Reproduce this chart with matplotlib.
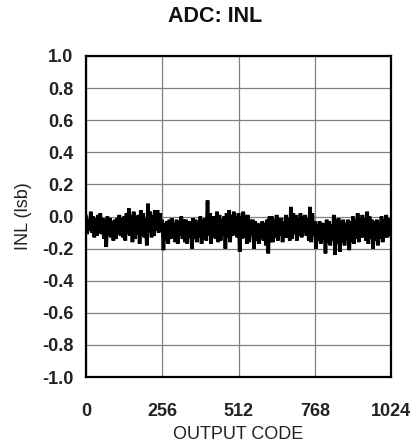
import numpy as np
import matplotlib
matplotlib.use("Agg")
import matplotlib.pyplot as plt

plt.rcParams["font.family"] = ["Liberation Sans", "DejaVu Sans"]

# INL samples, one every 4 output codes
code_step = 4
inl_lsb = [
    0.00, -0.11, -0.02, -0.09, 0.03, -0.10, 0.00, -0.13, -0.01, -0.12, 0.01, -0.10, 0.02, -0.11, -0.01, -0.14,
    -0.02, -0.19, 0.00, -0.12, -0.01, -0.13, -0.03, -0.15, -0.02, -0.14, -0.01, -0.11, 0.01, -0.12, -0.01, -0.13,
    0.00, -0.15, 0.02, -0.11, 0.05, -0.12, 0.01, -0.16, 0.03, -0.14, 0.00, -0.11, 0.01, -0.17, 0.04, -0.12,
    0.02, -0.13, -0.01, -0.18, 0.08, -0.10, 0.03, -0.13, 0.01, -0.12, 0.04, -0.09, 0.04, -0.10, 0.02, -0.08,
    -0.02, -0.21, -0.04, -0.15, -0.03, -0.17, -0.02, -0.14, -0.01, -0.13, -0.04, -0.16, -0.02, -0.17, -0.03, -0.12,
    0.00, -0.14, -0.02, -0.16, -0.02, -0.17, -0.03, -0.13, -0.03, -0.20, -0.01, -0.14, -0.02, -0.16, -0.04, -0.13,
    0.00, -0.17, -0.02, -0.14, -0.01, -0.15, 0.10, -0.12, 0.02, -0.17, 0.00, -0.13, 0.00, -0.14, 0.03, -0.16,
    0.01, -0.15, -0.02, -0.12, 0.00, -0.20, 0.02, -0.13, 0.04, -0.16, 0.01, -0.12, 0.03, -0.11, 0.00, -0.13,
    0.02, -0.22, 0.00, -0.14, 0.03, -0.13, 0.01, -0.17, 0.01, -0.16, -0.02, -0.12, -0.02, -0.20, -0.03, -0.15,
    -0.04, -0.17, -0.05, -0.14, -0.03, -0.15, -0.04, -0.18, -0.02, -0.23, 0.00, -0.16, 0.00, -0.16, -0.02, -0.13,
    0.01, -0.15, -0.01, -0.12, -0.01, -0.16, -0.03, -0.13, 0.01, -0.13, -0.01, -0.15, 0.06, -0.14, 0.02, -0.11,
    0.01, -0.15, -0.01, -0.12, 0.02, -0.13, 0.00, -0.10, 0.01, -0.12, -0.01, -0.15, 0.06, -0.16, 0.02, -0.12,
    -0.03, -0.20, -0.05, -0.15, -0.03, -0.17, -0.04, -0.14, -0.04, -0.23, -0.02, -0.16, -0.03, -0.18, -0.05, -0.15,
    0.01, -0.24, -0.02, -0.17, -0.01, -0.22, -0.03, -0.16, -0.02, -0.18, -0.04, -0.15, -0.02, -0.21, -0.03, -0.16,
    0.00, -0.17, -0.02, -0.14, 0.02, -0.16, -0.01, -0.13, 0.01, -0.13, -0.01, -0.15, 0.03, -0.17, 0.00, -0.14,
    -0.02, -0.20, -0.03, -0.15, -0.02, -0.18, -0.04, -0.14, 0.00, -0.16, -0.02, -0.13, 0.01, -0.13, -0.01, -0.11,
]
codes = np.arange(len(inl_lsb)) * code_step

x_ticks = [0, 256, 512, 768, 1024]
y_ticks = [-1.0, -0.8, -0.6, -0.4, -0.2, 0.0, 0.2, 0.4, 0.6, 0.8, 1.0]

fig = plt.figure(figsize=(4.19, 4.46), dpi=100)
ax = fig.add_axes([86 / 419, 1 - 377 / 446, 305 / 419, 321 / 446])

ax.plot(codes, inl_lsb, color="black", linewidth=2.6, solid_joinstyle="miter")

ax.set_xlim(0, 1024)
ax.set_ylim(-1.0, 1.0)
ax.set_xticks(x_ticks)
ax.set_yticks(y_ticks)
ax.set_xticklabels([str(t) for t in x_ticks])
ax.set_yticklabels([f"{t:.1f}" for t in y_ticks])
ax.grid(True, color="#808080", linewidth=0.9)
ax.set_axisbelow(True)

for s in ax.spines.values():
    s.set_linewidth(1.6)
    s.set_color("black")

ax.tick_params(axis="x", length=0, pad=19, labelsize=13, labelcolor="#222222")
ax.tick_params(axis="y", length=0, pad=9, labelsize=13, labelcolor="#222222")
for lbl in ax.get_xticklabels() + ax.get_yticklabels():
    lbl.set_fontweight("bold")

ax.set_xlabel("OUTPUT CODE", fontsize=13, color="#222222", labelpad=4)
ax.set_ylabel("INL (lsb)", fontsize=13, color="#222222", labelpad=7)

fig.text(215 / 419, 1 - 17 / 446, "ADC: INL", ha="center", va="center",
         fontsize=15.5, fontweight="bold", color="#111111")

fig.savefig("out.png", dpi=100)
